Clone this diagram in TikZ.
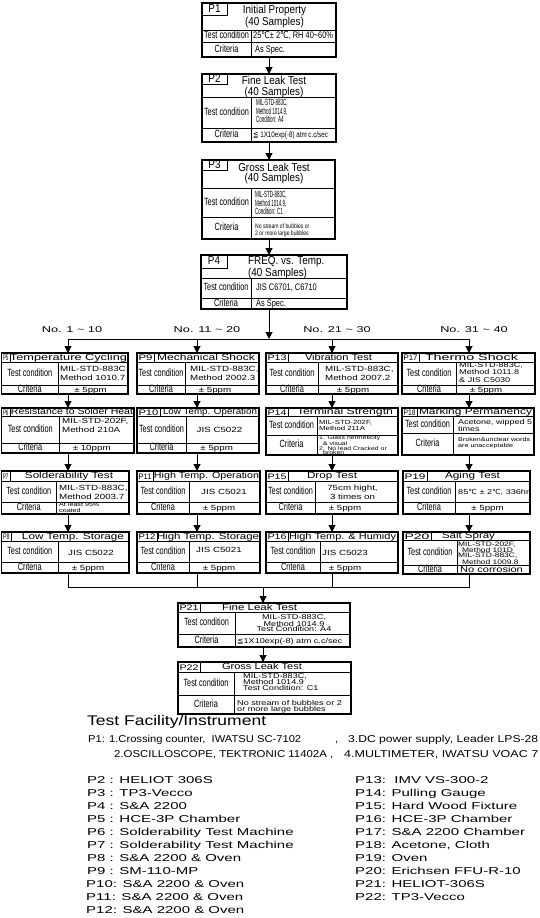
\documentclass[tikz,border=0pt]{standalone}
\usepackage{fontspec}
\usepackage{graphicx}
\usetikzlibrary{arrows.meta}
\setmainfont{Liberation Sans}
\newfontfamily\fN[FakeStretch=0.78]{Liberation Sans}
\newfontfamily\fC[FakeStretch=0.7]{Liberation Sans}
\newfontfamily\fNN[FakeStretch=0.5]{Liberation Sans}
\newfontfamily\fT[FakeStretch=0.86]{Liberation Sans}
\newfontfamily\fW[FakeStretch=1.3]{Liberation Sans}
\newfontfamily\fL[FakeStretch=1.5]{Liberation Sans}
\newfontfamily\fH[FakeStretch=1.25]{Liberation Sans}
\newfontfamily\fB[FakeStretch=1.15]{Liberation Sans}
\newfontfamily\fS[FakeStretch=0.8]{DejaVu Sans}
\newfontfamily\fSW[FakeStretch=1.1]{DejaVu Sans}
\newcommand\fs[2]{\fontsize{#1}{#2}\selectfont}
\newcommand\W[2]{\resizebox{#1pt}{\height}{#2}}
\newcommand\dcn{{\fS ℃}}
\newcommand\dcw{{\fSW ℃}}
\tikzset{
  obox/.style={draw, line width=1.1pt, inner sep=0pt, outer sep=0pt},
  iline/.style={line width=0.8pt},
  cline/.style={line width=1pt},
  arr/.style={cline, -{Triangle[width=7pt,length=7pt]}},
  lab/.style={font=\fC\fs{10.5}{10}, anchor=mid, inner sep=0pt},
  tl/.style={font=\fT\fs{11.5}{10.5}, anchor=mid, inner sep=0pt},
  tt/.style={font=\fT\fs{11.5}{10.5}, inner sep=0pt},
  nv/.style={font=\fN\fs{9.5}{10}, anchor=mid west, inner sep=0pt},
  nn/.style={font=\fNN\fs{9}{7.2}, align=left, anchor=west, inner sep=0pt},
  ttl/.style={font=\fW\fs{9}{9}, anchor=mid, inner sep=0pt},
  val/.style={font=\fW\fs{7.5}{9}, align=left, anchor=west, inner sep=0pt},
  valc/.style={font=\fW\fs{7.5}{9}, align=center, anchor=center, inner sep=0pt},
  cri/.style={font=\fW\fs{7.5}{9}, anchor=mid, inner sep=0pt},
  nol/.style={font=\fL\fs{8.5}{9}, anchor=mid, inner sep=0pt},
  lst/.style={font=\fL\fs{10}{10}, anchor=mid west, inner sep=0pt},
  p1f/.style={font=\fB\fs{10}{10}, anchor=mid west, inner sep=0pt}
}
% name x1 ytop x2 ybot ytitle ytest xdiv
\newcommand\tbx[8]{%
  \node[obox, anchor=north west, minimum width={#4pt-#2pt}, minimum height={#5pt-#3pt}] (#1) at (#2,#3) {};
  \draw[iline] (#2,#6) -- (#4,#6) (#2,#7) -- (#4,#7) (#8,#6) -- (#8,#5);
  \node[lab] (#1-tc) at ({(#2+#8)/2},{(#6+#7)/2}) {Test condition};
  \node[lab] (#1-cr) at ({(#2+#8)/2},{(#7+#5)/2}) {Criteria};
}
% x1 y1 x2 y2 text
\newcommand\lbx[5]{%
  \draw[iline] (#1,#2) rectangle (#3,#4);
  \pgfmathsetmacro\lbw{#3-#1-3}
  \node[font=\fW\fs{8}{8}, anchor=mid, inner sep=0pt] (#5-l) at ({(#1+#3)/2},{(#2+#4)/2+0.5}) {\resizebox{\lbw pt}{\height}{#5}};
}
\begin{document}
\begin{tikzpicture}[x=1pt,y=-1pt]
\path[use as bounding box] (0,0) rectangle (540,918);
\clip (0,0) rectangle (540,918);
\fill[white] (0,0) rectangle (540,918);

% ---------- top chain ----------
\tbx{P1}{202}{3}{336}{57}{30}{42}{251}
\draw[iline] (202,3) rectangle (227,15);
\node[tl] (P1-l) at (214.5,9.5) {P1};
\node[tt, align=center] (P1-t) at (274.5,16.5) {Initial Property\\(40 Samples)};
\node[nv] (P1-v) at (253,36) {25\dcn± 2\dcn, RH 40\textasciitilde60\%};
\node[nv] (P1-k) at (255,49.5) {As Spec.};

\tbx{P2}{202}{74}{336}{142}{97}{128}{251}
\draw[iline] (202,74) rectangle (227,84);
\node[tl] (P2-l) at (214.5,79.5) {P2};
\node[tt, align=center] (P2-t) at (274,87) {Fine Leak Test\\(40 Samples)};
\node[nn] (P2-v) at (256,111) {MIL-STD-883C,\\Method 1014.9,\\Condition: A4};
\node[nv, font=\fN\fs{8}{9}] (P2-k) at (253,135) {{\fS ≦} 1X10exp(-8) atm c.c/sec};

\tbx{P3}{202}{160}{335}{239}{188}{217}{251}
\draw[iline] (202,160) rectangle (227,170);
\node[tl] (P3-l) at (214.5,165.5) {P3};
\node[tt, align=center] (P3-t) at (274,173.5) {Gross Leak Test\\(40 Samples)};
\node[nn] (P3-v) at (255,203) {MIL-STD-883C,\\Method 1014.9,\\Condition: C1};
\node[nn, font=\fN\fs{6.5}{7.5}] (P3-k) at (255,230.5) {No stream of bubbles or\\2 or more large bubbles};

\tbx{P4}{201}{255}{347}{309}{278}{298}{251}
\draw[iline] (201,255) rectangle (227,268);
\node[tl] (P4-l) at (214,262) {P4};
\node[tt, align=left, anchor=west] (P4-t) at (248,268) {FREQ. vs. Temp.\\(40 Samples)};
\node[nv] (P4-v) at (256,288) {JIS C6701, C6710};
\node[nv] (P4-k) at (256,303.5) {As Spec.};

\coordinate (cx) at (269,0);
\draw[arr] (P1.south -| cx) -- (P2.north -| cx);
\draw[arr] (P2.south -| cx) -- (P3.north -| cx);
\draw[arr] (P3.south -| cx) -- (P4.north -| cx);

% ---------- split ----------
\coordinate (sp) at (269,339);
\coordinate (s1) at (68,339);
\coordinate (s2) at (197,339);
\coordinate (s3) at (332,339);
\coordinate (s4) at (469,339);
\draw[arr] (P4.south -| sp) -- (sp);
\draw[cline] (s1) -- (s4);
\node[nol] (n1) at (72,330) {No. 1 \textasciitilde\ 10};
\node[nol] (n2) at (207,330) {No. 11 \textasciitilde\ 20};
\node[nol] (n3) at (337,330) {No. 21 \textasciitilde\ 30};
\node[nol] (n4) at (474,330) {No. 31 \textasciitilde\ 40};

% ---------- row 1 ----------
\tbx{P5}{1.5}{353}{128}{394}{362}{385}{58}
\lbx{1.5}{353}{10}{362}{P5}
\node[ttl] (P5-t) at (68.5,357.5) {\W{117}{Temperature Cycling}};
\node[val] (P5-v) at (60,373.5) {MIL-STD-883C,\\Method 1010.7};
\node[cri] (P5-k) at (90.5,389.5) {± 5ppm};

\tbx{P9}{137}{353}{259}{394}{362}{385}{185}
\lbx{137}{353}{154}{362}{P9}
\node[ttl] (P9-t) at (206,357.5) {\W{98}{Mechanical Shock}};
\node[val] (P9-v) at (190,373.5) {MIL-STD-883C,\\Method 2002.3};
\node[cri] (P9-k) at (215,389.5) {± 5ppm};

\tbx{P13}{266}{353}{398}{394}{362}{385}{318}
\lbx{266}{353}{288}{362}{P13}
\node[ttl] (P13-t) at (338.5,357.5) {\W{67}{Vibration Test}};
\node[val] (P13-v) at (325,373.5) {MIL-STD-883C,\\Method 2007.2};
\node[cri] (P13-k) at (353,389.5) {± 5ppm};

\tbx{P17}{402}{353}{535}{394}{362}{385}{456}
\lbx{402}{353}{419}{362}{P17}
\node[ttl] (P17-t) at (471.5,357.5) {\W{93}{Thermo Shock}};
\node[val, font=\fW\fs{7}{7.5}] (P17-v) at (459,372.5) {MIL-STD-883C,\\Method 1011.8\\\& JIS C5030};
\node[cri] (P17-k) at (486,389.5) {± 5ppm};

% ---------- row 2 ----------
\tbx{P6}{1.5}{408}{134}{453}{416}{443}{59}
\lbx{1.5}{408}{10}{416}{P6}
\node[ttl] (P6-t) at (72,412) {\W{122}{Resistance to Solder Heat}};
\node[val] (P6-v) at (62,425) {MIL-STD-202F,\\Method 210A};
\node[cri] (P6-k) at (91.7,448) {± 10ppm};

\tbx{P10}{137}{408}{259}{453}{416}{443}{186}
\lbx{137}{408}{160}{416}{P10}
\node[ttl] (P10-t) at (210,412) {\W{94}{Low Temp. Operation}};
\node[cri] (P10-v) at (219.5,430) {JIS C5022};
\node[cri] (P10-k) at (216.7,448) {± 5ppm};

\tbx{P14}{266}{408}{398}{455}{416}{435}{317}
\lbx{266}{408}{288}{416}{P14}
\node[ttl] (P14-t) at (345,412) {\W{96}{Terminal Strength}};
\node[val, font=\fW\fs{6}{6.5}] (P14-v) at (319,425.5) {MIL-STD-202F,\\Method 211A};
\node[val, font=\fW\fs{5.3}{4.5}] (P14-k) at (319,445.5) {1. Glass hermeticity\\\hspace*{4pt}\& visual\\2. No lead Cracked or\\\hspace*{4pt}broken};

\tbx{P18}{402}{408}{534}{455}{416}{433}{453}
\lbx{402}{408}{417}{416}{P18}
\node[ttl] (P18-t) at (475.5,412) {\W{113}{Marking Permanency}};
\node[val, font=\fW\fs{6.9}{7}] (P18-v) at (458,425.5) {Acetone, wipped 5\\times};
\node[val, font=\fW\fs{5.5}{5.7}] (P18-k) at (458,443) {Broken\&unclear words\\are unacceptable};

% ---------- row 3 ----------
\tbx{P7}{1.5}{471}{129}{514}{481}{502}{56}
\lbx{1.5}{471}{10}{481}{P7}
\node[ttl] (P7-t) at (69,476) {\W{88}{Solderability Test}};
\node[val, font=\fW\fs{7.5}{8.4}] (P7-v) at (59,492.5) {MIL-STD-883C,\\Method 2003.7};
\node[val, font=\fW\fs{5.5}{6}] (P7-k) at (59,508) {At least 95\%\\coated};

\tbx{P11}{137}{471}{260}{514}{481}{502}{189}
\lbx{137}{471}{153}{481}{P11}
\node[ttl] (P11-t) at (206.5,476) {\W{105}{High Temp. Operation}};
\node[cri] (P11-v) at (224,492) {JIS C5021};
\node[cri] (P11-k) at (219,508) {± 5ppm};

\tbx{P15}{266}{471}{398}{514}{481}{502}{315}
\lbx{266}{471}{288}{481}{P15}
\node[ttl] (P15-t) at (332,476) {\W{50}{Drop Test}};
\node[valc, font=\fW\fs{7.5}{9.5}] (P15-v) at (352.5,492.5) {75cm hight,\\3 times on};
\node[cri] (P15-k) at (345,508) {± 5ppm};

\tbx{P19}{403}{471}{530}{514}{481}{502}{455}
\lbx{403}{471}{427}{481}{P19}
\node[ttl] (P19-t) at (472.5,476) {\W{55}{Aging Test}};
\begin{scope}
\clip (455,481) rectangle (529.4,502);
\node[val, font=\fW\fs{7}{8}] (P19-v) at (458,492) {85\dcw\ ± 2\dcw, 336hrs};
\end{scope}
\node[cri] (P19-k) at (487.5,508) {± 5ppm};

% ---------- row 4 ----------
\tbx{P8}{1.5}{532}{129}{573}{541}{562}{58}
\lbx{1.5}{532}{11}{541}{P8}
\node[ttl] (P8-t) at (73,536.5) {\W{102}{Low Temp. Storage}};
\node[cri] (P8-v) at (91,552.5) {JIS C5022};
\node[cri] (P8-k) at (88,567.5) {± 5ppm};

\tbx{P12}{137}{532}{260}{573}{541}{562}{189}
\lbx{137}{532}{157}{541}{P12}
\node[ttl] (P12-t) at (208,536.5) {\W{102}{High Temp. Storage}};
\node[cri] (P12-v) at (219,550) {JIS C5021};
\node[cri] (P12-k) at (219,567.5) {± 5ppm};

\tbx{P16}{266}{532}{398}{573}{541}{562}{320}
\lbx{266}{532}{288}{541}{P16}
\node[ttl] (P16-t) at (342.5,536.5) {\W{107}{High Temp. \& Humidy}};
\node[cri] (P16-v) at (345,552.5) {JIS C5023};
\node[cri] (P16-k) at (345,567.5) {± 5ppm};

\tbx{P20}{403}{532}{530}{574}{540}{565}{457}
\lbx{403}{532}{431}{540}{P20}
\node[ttl] (P20-t) at (468.5,536) {\W{53}{Salt Spray}};
\node[val, font=\fW\fs{6.5}{5.3}] (P20-v) at (458,553) {MIL-STD-202F,\\\hspace*{4pt}Method 101D\\MIL-STD-883C,\\\hspace*{4pt}Method 1009.8};
\node[cri, font=\fW\fs{8.5}{9}] (P20-k) at (491.5,570) {No corrosion};

% ---------- column arrows ----------
\draw[arr] (s1) -- (P5.north -| s1);
\draw[arr] (s2) -- (P9.north -| s2);
\draw[arr] (s3) -- (P13.north -| s3);
\draw[arr] (s4) -- (P17.north -| s4);
\draw[arr] (P5.south -| s1) -- (P6.north -| s1);
\draw[arr] (P6.south -| s1) -- (P7.north -| s1);
\draw[arr] (P7.south -| s1) -- (P8.north -| s1);
\draw[arr] (P9.south -| s2) -- (P10.north -| s2);
\draw[arr] (P10.south -| s2) -- (P11.north -| s2);
\draw[arr] (P11.south -| s2) -- (P12.north -| s2);
\draw[arr] (P13.south -| s3) -- (P14.north -| s3);
\draw[arr] (P14.south -| s3) -- (P15.north -| s3);
\draw[arr] (P15.south -| s3) -- (P16.north -| s3);
\draw[arr] (P17.south -| s4) -- (P18.north -| s4);
\draw[arr] (P18.south -| s4) -- (P19.north -| s4);
\draw[arr] (P19.south -| s4) -- (P20.north -| s4);

% ---------- merge ----------
\coordinate (m1) at (68,587);
\coordinate (m2) at (197,587);
\coordinate (m3) at (332,587);
\coordinate (m4) at (469,587);
\coordinate (mc) at (263,587);
\draw[cline] (P8.south -| m1) -- (m1) -- (m4) -- (P20.south -| m4);
\draw[cline] (P12.south -| m2) -- (m2);
\draw[cline] (P16.south -| m3) -- (m3);

% ---------- final tests ----------
\tbx{P21}{178}{603}{350}{647}{612}{634}{235}
\lbx{178}{603}{200}{612}{P21}
\node[ttl] (P21-t) at (259.5,607.5) {\W{75}{Fine Leak Test}};
\node[valc, font=\fW\fs{7}{5.2}] (P21-v) at (294,622.7) {MIL-STD-883C,\\Method 1014.9\\Test Condition: A4};
\node[val, font=\fW\fs{7}{8}, anchor=mid west] (P21-k) at (237,641) {{\fSW ≦}1X10exp(-8) atm c.c/sec};

\tbx{P22}{178}{662}{351}{714}{672}{695}{234}
\lbx{178}{662}{200}{672}{P22}
\node[ttl] (P22-t) at (262,667) {\W{80}{Gross Leak Test}};
\node[val, font=\fW\fs{7}{6}] (P22-v) at (243,682) {MIL-STD-883C,\\Method 1014.9\\Test Condition: C1};
\node[val, font=\fW\fs{7}{6}] (P22-k) at (237,706.3) {No stream of bubbles or 2\\or more large bubbles};

\draw[arr] (mc) -- (P21.north -| mc);
\draw[arr] (P21.south -| mc) -- (P22.north -| mc);

% ---------- facility list ----------
\node[anchor=mid west, inner sep=0pt, font=\fH\fs{14}{14}] (fh) at (87,723) {Test Facility/Instrument};
\node[p1f] (f1a) at (88,740) {\W{213}{P1: 1.Crossing counter,\ \ IWATSU SC-7102}};
\node[p1f] (f1b) at (335,740) {,};
\node[p1f] (f1c) at (348,740) {\W{190}{3.DC power supply, Leader LPS-28}};
\node[p1f] (f2a) at (114,755) {\W{219}{2.OSCILLOSCOPE, TEKTRONIC 11402A ,}};
\node[p1f] (f2b) at (344,755) {\W{194}{4.MULTIMETER, IWATSU VOAC 7}};

\node[lst] (L2) at (87,781) {P2 : HELIOT 306S};
\node[lst] (L3) at (87,794) {P3 : TP3-Vecco};
\node[lst] (L4) at (87,807) {P4 : S\&A 2200};
\node[lst] (L5) at (87,820) {P5 : HCE-3P Chamber};
\node[lst] (L6) at (87,833) {P6 : Solderability Test Machine};
\node[lst] (L7) at (87,846) {P7 : Solderability Test Machine};
\node[lst] (L8) at (87,859) {P8 : S\&A 2200 \& Oven};
\node[lst] (L9) at (87,872) {P9 : SM-110-MP};
\node[lst] (L10) at (86,885) {P10: S\&A 2200 \& Oven};
\node[lst] (L11) at (86,898) {P11: S\&A 2200 \& Oven};
\node[lst] (L12) at (86,911) {P12: S\&A 2200 \& Oven};

\node[lst] (R13) at (355,781) {P13:\ \ IMV VS-300-2};
\node[lst] (R14) at (355,794) {P14: Pulling Gauge};
\node[lst] (R15) at (355,807) {P15: Hard Wood Fixture};
\node[lst] (R16) at (355,820) {P16: HCE-3P Chamber};
\node[lst] (R17) at (355,833) {P17: S\&A 2200 Chamber};
\node[lst] (R18) at (355,846) {P18: Acetone, Cloth};
\node[lst] (R19) at (355,859) {P19: Oven};
\node[lst] (R20) at (355,872) {P20: Erichsen FFU-R-10};
\node[lst] (R21) at (355,885) {P21: HELIOT-306S};
\node[lst] (R22) at (355,898) {P22: TP3-Vecco};
\end{tikzpicture}
\end{document}
